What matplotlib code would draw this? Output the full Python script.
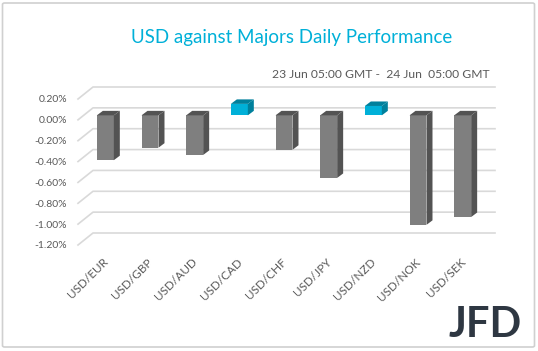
import numpy as np
import matplotlib
matplotlib.use("Agg")
import matplotlib.pyplot as plt
from matplotlib.patches import Polygon, FancyBboxPatch
from matplotlib.lines import Line2D
from matplotlib.transforms import ScaledTranslation, IdentityTransform

pairs = ["USD/EUR", "USD/GBP", "USD/AUD", "USD/CAD", "USD/CHF",
         "USD/JPY", "USD/NZD", "USD/NOK", "USD/SEK"]
perf = [-0.43, -0.31, -0.38, 0.11, -0.33, -0.60, 0.09, -1.05, -0.975]
yticks = [0.2, 0.0, -0.2, -0.4, -0.6, -0.8, -1.0, -1.2]

TITLE = "USD against Majors Daily Performance"
SUBTITLE = "23 Jun 05:00 GMT -  24 Jun  05:00 GMT"

GRAY_TXT = "#595959"
GRID = "#d9d9d9"
BLUE = "#00b0d8"
BLUE_DARK = "#00809c"
BAR = "#7f7f7f"
BAR_DARK = "#535353"

plt.rcParams["font.family"] = ["Lato", "DejaVu Sans"]

W, H = 538, 351
fig = plt.figure(figsize=(W / 100, H / 100), dpi=100)
ax = fig.add_axes([78 / W, 106 / H, 402 / W, 146 / H])
ax.set_xlim(-0.5, len(pairs) - 0.5)
ax.set_ylim(-1.2, 0.2)
ax.patch.set_alpha(0)
for s in ax.spines.values():
    s.set_visible(False)
ax.set_xticks([])
ax.set_yticks(yticks, [f"{t:.2f}%" for t in yticks])
ax.tick_params(axis="y", length=0, pad=8, labelsize=7.5, labelcolor=GRAY_TXT)

ident = IdentityTransform()


def px(x, y):
    return np.array(ax.transData.transform((x, y)))


# back wall gridlines (pseudo 3d)
back = np.array([15, 12])
x_lo, x_hi = ax.get_xlim()
for t in yticks:
    a = px(x_lo, t)
    b = a + back
    c = px(x_hi, t) + back
    ax.add_line(Line2D([a[0], b[0], c[0]], [a[1], b[1], c[1]], color=GRID,
                       lw=1.2, transform=ident, clip_on=False, zorder=1))

# bars with side and top faces
w = 0.38
shift = np.array([5, 4.5])
depth = np.array([6, 4.5])
for i, v in enumerate(perf):
    lo, hi = min(0, v), max(0, v)
    face, dark = (BLUE, BLUE_DARK) if v > 0 else (BAR, BAR_DARK)
    bl = px(i - w / 2, lo) + shift
    br = px(i + w / 2, lo) + shift
    tr = px(i + w / 2, hi) + shift
    tl = px(i - w / 2, hi) + shift
    ax.add_patch(Polygon([bl, br, tr, tl], closed=True, fc=face, ec="none",
                         transform=ident, clip_on=False, zorder=3))
    ax.add_patch(Polygon([br, br + depth, tr + depth, tr], closed=True, fc=dark,
                         ec="none", transform=ident, clip_on=False, zorder=3))
    ax.add_patch(Polygon([tl, tr, tr + depth, tl + depth], closed=True, fc=dark,
                         ec="none", transform=ident, clip_on=False, zorder=3))

# category labels
lab_off = ax.transData + ScaledTranslation(6 / 100, -15 / 100, fig.dpi_scale_trans)
for i, name in enumerate(pairs):
    ax.text(i, -1.2, name, transform=lab_off, rotation=45, ha="right",
            va="center", rotation_mode="anchor", fontsize=8.5, color=GRAY_TXT)

fig.text(292 / W, 1 - 38 / H, TITLE, color=BLUE, fontsize=13.5,
         ha="center", va="center")
fig.text(490 / W, 1 - 74 / H, SUBTITLE, color=GRAY_TXT, fontsize=8.7,
         ha="right", va="center")
fig.text(485 / W, 1 - 325 / H, "JFD", color="#2e3742", fontsize=30,
         fontweight="bold", ha="center", va="center")

fig.patches.append(FancyBboxPatch((2.5 / W, 4 / H), 532 / W, 344 / H,
                                  boxstyle="round,pad=0,rounding_size=0.004",
                                  transform=fig.transFigure, fc="none",
                                  ec="#d0d0d0", lw=1.2))

fig.savefig("out.png", dpi=100)
